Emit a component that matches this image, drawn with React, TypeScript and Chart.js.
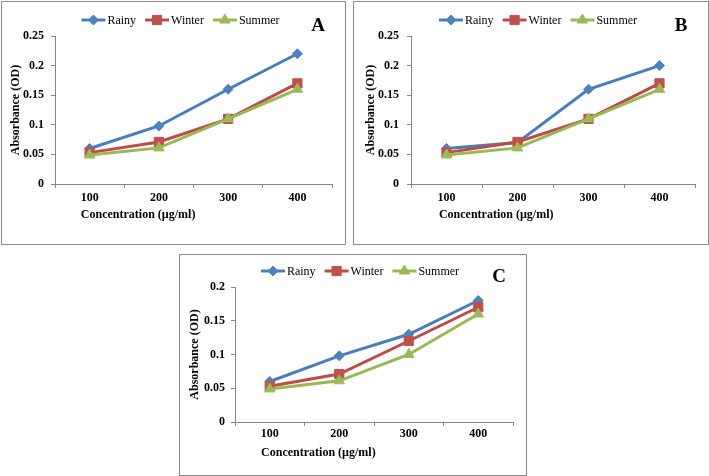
import React, { useEffect, useRef } from 'react';
import { Chart, registerables } from 'chart.js';

Chart.register(...registerables);

const categories = ['100', '200', '300', '400'];
const seriesNames = ['Rainy', 'Winter', 'Summer'];

const rainyA = [0.06, 0.098, 0.16, 0.22];
const winterA = [0.053, 0.071, 0.11, 0.17];
const summerA = [0.049, 0.061, 0.11, 0.16];

const rainyB = [0.06, 0.07, 0.16, 0.2];
const winterB = [0.053, 0.071, 0.11, 0.17];
const summerB = [0.049, 0.061, 0.11, 0.16];

const rainyC = [0.06, 0.098, 0.13, 0.18];
const winterC = [0.053, 0.071, 0.12, 0.17];
const summerC = [0.049, 0.061, 0.1, 0.16];

const yTicksAB = [0, 0.05, 0.1, 0.15, 0.2, 0.25];
const yLabelsAB = ['0', '0.05', '0.1', '0.15', '0.2', '0.25'];
const yTicksC = [0, 0.05, 0.1, 0.15, 0.2];
const yLabelsC = ['0', '0.05', '0.1', '0.15', '0.2'];

const yTitle = 'Absorbance (OD)';
const xTitle = 'Concentration (\u00b5g/ml)';

const FONT = '"Liberation Serif", "Times New Roman", serif';
const AXIS = '#868686';

const seriesStyle = [
  { line: '#4A7EBB', fill: '#4F81BD', point: 'rectRot', r: 5 },
  { line: '#BE4B48', fill: '#C0504D', point: 'rect', r: 6.5 },
  { line: '#98B954', fill: '#9BBB59', point: 'triangle', r: 6 },
];

function drawMarker(ctx: CanvasRenderingContext2D, style: string, x: number, y: number, r: number) {
  ctx.beginPath();
  if (style === 'rectRot') {
    ctx.moveTo(x, y - r);
    ctx.lineTo(x + r, y);
    ctx.lineTo(x, y + r);
    ctx.lineTo(x - r, y);
  } else if (style === 'rect') {
    const s = r * Math.SQRT1_2;
    ctx.rect(x - s, y - s, 2 * s, 2 * s);
  } else {
    const h = r * 1.5;
    const w = r * Math.sqrt(3) / 2;
    ctx.moveTo(x, y - r);
    ctx.lineTo(x + w, y + h - r);
    ctx.lineTo(x - w, y + h - r);
  }
  ctx.closePath();
  ctx.fill();
  ctx.stroke();
}

function decorPlugin(letter: string) {
  return {
    id: 'decor' + letter,
    afterDraw(chart: any) {
      const ctx: CanvasRenderingContext2D = chart.ctx;
      const a = chart.chartArea;
      ctx.save();
      ctx.fillStyle = '#000';
      ctx.textBaseline = 'middle';
      ctx.textAlign = 'center';
      ctx.font = `bold 19px ${FONT}`;
      ctx.fillText(letter, a.right - 14, a.top - 10);
      ctx.font = `bold 12px ${FONT}`;
      ctx.fillText(xTitle, a.left + 0.3 * (a.right - a.left), a.bottom + 31);

      ctx.font = `12px ${FONT}`;
      const lineLen = 24;
      const gap1 = 2;
      const gap2 = 9;
      const ds = chart.data.datasets;
      const widths = ds.map((d: any) => lineLen + gap1 + ctx.measureText(d.label).width);
      const total = widths.reduce((s: number, w: number) => s + w, 0) + gap2 * (widths.length - 1);
      let x = chart.width / 2 + 7 - total / 2;
      const y = a.top - 16;
      ds.forEach((d: any, i: number) => {
        const st = seriesStyle[i];
        ctx.strokeStyle = st.line;
        ctx.lineWidth = 3;
        ctx.beginPath();
        ctx.moveTo(x, y);
        ctx.lineTo(x + lineLen, y);
        ctx.stroke();
        ctx.fillStyle = st.fill;
        ctx.strokeStyle = st.fill;
        ctx.lineWidth = 1;
        drawMarker(ctx, st.point, x + lineLen / 2, y, st.r);
        ctx.fillStyle = '#000';
        ctx.textAlign = 'left';
        ctx.fillText(d.label, x + lineLen + gap1, y + 1);
        x += widths[i] + gap2;
      });
      ctx.restore();
    },
  };
}

type PanelProps = {
  letter: string;
  left: number;
  top: number;
  width: number;
  height: number;
  series: number[][];
  yTicks: number[];
  yLabels: string[];
  yAxisWidth: number;
  xAxisHeight: number;
  padTop: number;
  padRight: number;
  yTitlePad: number;
  yTickPad: number;
  xTickPad: number;
};

function Panel(p: PanelProps) {
  const ref = useRef<HTMLCanvasElement>(null);
  useEffect(() => {
    if (!ref.current) return;
    const tickFont = { family: FONT, size: 12, weight: 'bold' as const };
    const chart = new Chart(ref.current, {
      type: 'line',
      data: {
        labels: categories,
        datasets: p.series.map((vals, i) => ({
          label: seriesNames[i],
          data: vals,
          borderColor: seriesStyle[i].line,
          backgroundColor: seriesStyle[i].fill,
          pointBackgroundColor: seriesStyle[i].fill,
          pointBorderColor: seriesStyle[i].fill,
          pointBorderWidth: 1,
          pointStyle: seriesStyle[i].point as any,
          pointRadius: seriesStyle[i].r,
          borderWidth: 3,
          tension: 0,
          fill: false,
          order: 2 - i,
        })),
      },
      options: {
        responsive: false,
        animation: false,
        layout: { padding: { top: p.padTop, right: p.padRight, left: 0, bottom: 0 } },
        plugins: { legend: { display: false }, tooltip: { enabled: false } },
        scales: {
          x: {
            type: 'category',
            offset: true,
            grid: { drawOnChartArea: false, drawTicks: true, tickLength: 4, color: AXIS, offset: true },
            border: { display: true, color: AXIS, width: 1 },
            ticks: { font: tickFont, color: '#000', padding: p.xTickPad, maxRotation: 0 },
            afterFit: (s: any) => { s.height = p.xAxisHeight; },
          },
          y: {
            min: 0,
            max: p.yTicks[p.yTicks.length - 1],
            grid: { drawOnChartArea: false, drawTicks: true, tickLength: 4, color: AXIS },
            border: { display: true, color: AXIS, width: 1 },
            afterBuildTicks: (s: any) => { s.ticks = p.yTicks.map((v) => ({ value: v })); },
            ticks: {
              font: tickFont,
              color: '#000',
              padding: p.yTickPad,
              callback: (_v: any, idx: number) => p.yLabels[idx],
            },
            title: {
              display: true,
              text: yTitle,
              font: { family: FONT, size: 12, weight: 'bold', lineHeight: 1.2 },
              color: '#000',
              padding: { top: p.yTitlePad, bottom: 0 },
            },
            afterFit: (s: any) => { s.width = p.yAxisWidth; },
          },
        },
      } as any,
      plugins: [decorPlugin(p.letter)],
    });
    return () => chart.destroy();
  }, []);
  return (
    <div
      style={{
        position: 'absolute',
        left: p.left,
        top: p.top,
        width: p.width,
        height: p.height,
        boxSizing: 'border-box',
        border: '1px solid #8c8c8c',
        background: '#fff',
      }}
    >
      <canvas ref={ref} width={p.width - 2} height={p.height - 2} style={{ display: 'block' }} />
    </div>
  );
}

export default function App() {
  return (
    <div style={{ position: 'absolute', left: 0, top: 0, width: 709, height: 476, background: '#fff' }}>
      <Panel
        letter="A"
        left={1}
        top={1}
        width={345}
        height={244}
        series={[rainyA, winterA, summerA]}
        yTicks={yTicksAB}
        yLabels={yLabelsAB}
        yAxisWidth={53}
        xAxisHeight={60}
        padTop={34}
        padRight={13}
        yTitlePad={7}
        yTickPad={7}
        xTickPad={3}
      />
      <Panel
        letter="B"
        left={353}
        top={1}
        width={356}
        height={244}
        series={[rainyB, winterB, summerB]}
        yTicks={yTicksAB}
        yLabels={yLabelsAB}
        yAxisWidth={57}
        xAxisHeight={60}
        padTop={34}
        padRight={13}
        yTitlePad={10}
        yTickPad={8}
        xTickPad={3}
      />
      <Panel
        letter="C"
        left={179}
        top={254}
        width={348}
        height={222}
        series={[rainyC, winterC, summerC]}
        yTicks={yTicksC}
        yLabels={yLabelsC}
        yAxisWidth={55}
        xAxisHeight={53}
        padTop={32}
        padRight={13}
        yTitlePad={8}
        yTickPad={6}
        xTickPad={1}
      />
    </div>
  );
}
